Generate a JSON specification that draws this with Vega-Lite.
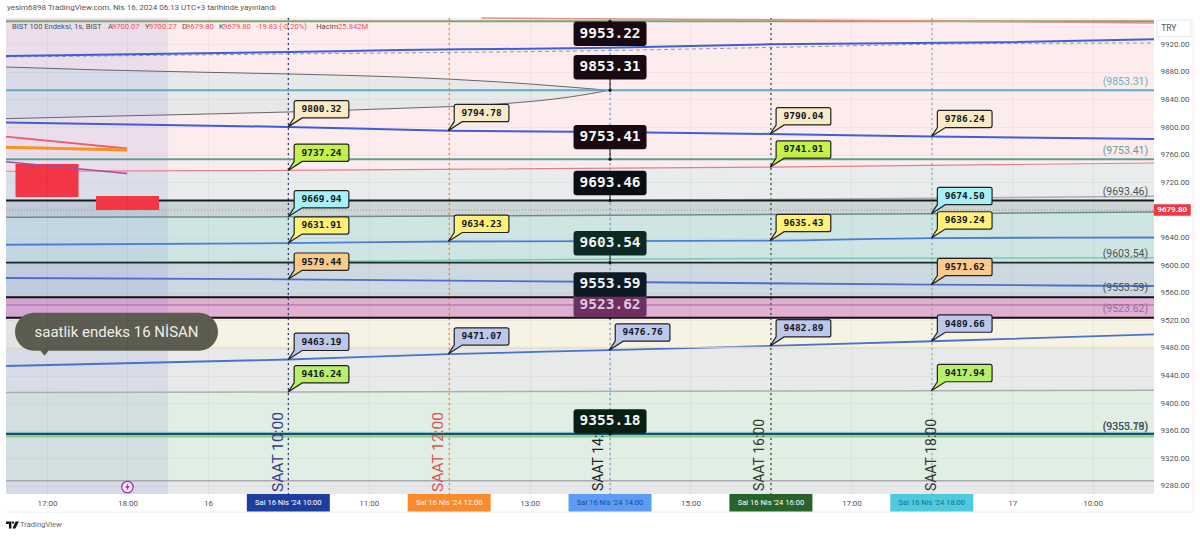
{
"$schema":"https://vega.github.io/schema/vega-lite/v6.json",
"width":1148,"height":476,
"autosize":{"type":"none"},
"padding":{"left":6,"top":18,"right":46,"bottom":42},
"background":"#ffffff",
"view":{"stroke":null},
"title":{"text":"yesim6898 TradingView.com, Nis 16, 2024 06:13 UTC+3 tarihinde yayınlandı","anchor":"start","frame":"group","font":"Roboto","fontSize":8,"fontWeight":"normal","color":"#555555","offset":3,"dx":1},
"datasets":{
"bands":[
{"zone":"pink","i":-0.51,"top":9958.1,"bottom":9736},{"zone":"pink","i":2.998,"top":9958.1,"bottom":9737.24},{"zone":"pink","i":8.99,"top":9958.1,"bottom":9741.91},{"zone":"pink","i":13.763,"top":9958.1,"bottom":9748},
{"zone":"mist","i":-0.51,"top":9736,"bottom":9693.46},{"zone":"mist","i":2.998,"top":9737.24,"bottom":9693.46},{"zone":"mist","i":8.99,"top":9741.91,"bottom":9693.46},{"zone":"mist","i":13.763,"top":9748,"bottom":9693.46},
{"zone":"graphite","i":-0.51,"top":9693.46,"bottom":9669.5},{"zone":"graphite","i":2.998,"top":9693.46,"bottom":9669.94},{"zone":"graphite","i":10.995,"top":9693.46,"bottom":9674.5},{"zone":"graphite","i":13.763,"top":9693.46,"bottom":9677},
{"zone":"teal","i":-0.51,"top":9669.5,"bottom":9603.54},{"zone":"teal","i":2.998,"top":9669.94,"bottom":9603.54},{"zone":"teal","i":10.995,"top":9674.5,"bottom":9603.54},{"zone":"teal","i":13.763,"top":9677,"bottom":9603.54},
{"zone":"slate","i":-0.51,"top":9603.54,"bottom":9553.59},{"zone":"slate","i":13.763,"top":9603.54,"bottom":9553.59},
{"zone":"purple","i":-0.51,"top":9553.59,"bottom":9523.62},{"zone":"purple","i":13.763,"top":9553.59,"bottom":9523.62},
{"zone":"cream","i":-0.51,"top":9523.62,"bottom":9481},{"zone":"cream","i":13.763,"top":9523.62,"bottom":9481},
{"zone":"ash","i":-0.51,"top":9481,"bottom":9415.5},{"zone":"ash","i":13.763,"top":9481,"bottom":9418.5},
{"zone":"green","i":-0.51,"top":9415.5,"bottom":9287.5},{"zone":"green","i":13.763,"top":9418.5,"bottom":9287.5},
{"zone":"floor","i":-0.51,"top":9287.5,"bottom":9268.3},{"zone":"floor","i":13.763,"top":9287.5,"bottom":9268.3}
],
"wedge":[
{"i":-0.51,"upper":9887.1,"lower":9812.2},{"i":0.66,"upper":9882.8,"lower":9815.5},{"i":2.998,"upper":9877,"lower":9821.9},{"i":4.39,"upper":9872.6,"lower":9827.2},{"i":5.63,"upper":9865.4,"lower":9833.5},{"i":6.5,"upper":9858,"lower":9843.6},{"i":6.99,"upper":9853.31,"lower":9853.31}
],
"shade":[{"i":-0.51,"end":1.505,"price":9958.1,"low":9268.3}],
"candles":[{"i":0,"price":9746.5,"close":9698.7},{"i":1,"price":9700.1,"close":9679.8}],
"times":[{"i":3,"hour":"10"},{"i":5,"hour":"12"},{"i":7,"hour":"14"},{"i":9,"hour":"16"},{"i":11,"hour":"18"}],
"lines":[
{"s":"L9953","i":-0.51,"price":9953.22},{"s":"L9953","i":13.763,"price":9953.22},
{"s":"Rtop","i":5.4,"price":9958},{"s":"Rtop","i":9,"price":9955.5},{"s":"Rtop","i":13.763,"price":9951},
{"s":"Dash","i":-0.51,"price":9901.6},{"s":"Dash","i":2.998,"price":9906},{"s":"Dash","i":6.99,"price":9911},{"s":"Dash","i":8.99,"price":9915.4},{"s":"Dash","i":11.85,"price":9921.2},{"s":"Dash","i":13.763,"price":9921.9},
{"s":"Bup","i":-0.51,"price":9903},{"s":"Bup","i":2.998,"price":9908.8},{"s":"Bup","i":4.39,"price":9911.7},{"s":"Bup","i":5.63,"price":9913.2},{"s":"Bup","i":6.99,"price":9915.1},{"s":"Bup","i":8.99,"price":9920},{"s":"Bup","i":11.85,"price":9922.9},{"s":"Bup","i":13.763,"price":9927.2},
{"s":"T9853","i":-0.51,"price":9853.31},{"s":"T9853","i":13.763,"price":9853.31},
{"s":"Bmid","i":-0.51,"price":9806.7},{"s":"Bmid","i":2.998,"price":9800.32},{"s":"Bmid","i":4.988,"price":9794.78},{"s":"Bmid","i":6.99,"price":9793},{"s":"Bmid","i":8.99,"price":9790.04},{"s":"Bmid","i":10.995,"price":9786.24},{"s":"Bmid","i":13.763,"price":9782.8},
{"s":"T9753","i":-0.51,"price":9753.41},{"s":"T9753","i":13.763,"price":9753.41},
{"s":"Red","i":-0.51,"price":9736},{"s":"Red","i":2.998,"price":9737.24},{"s":"Red","i":8.99,"price":9741.91},{"s":"Red","i":13.763,"price":9748},
{"s":"G9693","i":6.99,"price":9693.46},{"s":"G9693","i":13.763,"price":9699.7},
{"s":"K9693","i":-0.51,"price":9693.46},{"s":"K9693","i":13.763,"price":9693.46},
{"s":"Last","i":-0.51,"price":9679.8},{"s":"Last","i":13.763,"price":9679.8},
{"s":"GT","i":-0.51,"price":9669.5},{"s":"GT","i":2.998,"price":9669.94},{"s":"GT","i":10.995,"price":9674.5},{"s":"GT","i":13.763,"price":9677},
{"s":"B9635","i":-0.51,"price":9629.5},{"s":"B9635","i":2.998,"price":9631.91},{"s":"B9635","i":4.988,"price":9634.23},{"s":"B9635","i":8.99,"price":9635.43},{"s":"B9635","i":10.995,"price":9639.24},{"s":"B9635","i":13.763,"price":9640},
{"s":"T9603","i":-0.51,"price":9604},{"s":"T9603","i":3,"price":9605},{"s":"T9603","i":5.63,"price":9607.4},{"s":"T9603","i":7.37,"price":9608.9},{"s":"T9603","i":13.763,"price":9610.7},
{"s":"K9603","i":-0.51,"price":9603.54},{"s":"K9603","i":13.763,"price":9603.54},
{"s":"B9579","i":-0.51,"price":9581.3},{"s":"B9579","i":2.998,"price":9579.44},{"s":"B9579","i":10.995,"price":9571.62},{"s":"B9579","i":13.763,"price":9569.7},
{"s":"K9553","i":-0.51,"price":9553.59},{"s":"K9553","i":13.763,"price":9553.59},
{"s":"P9542","i":-0.51,"price":9542.2},{"s":"P9542","i":13.763,"price":9542.2},
{"s":"K9523","i":-0.51,"price":9523.62},{"s":"K9523","i":13.763,"price":9523.62},
{"s":"B9463","i":-0.51,"price":9453.8},{"s":"B9463","i":2.998,"price":9463.19},{"s":"B9463","i":4.988,"price":9471.07},{"s":"B9463","i":6.99,"price":9476.76},{"s":"B9463","i":8.99,"price":9482.89},{"s":"B9463","i":10.995,"price":9489.66},{"s":"B9463","i":13.763,"price":9499.7},
{"s":"Y9481","i":-0.51,"price":9481},{"s":"Y9481","i":13.763,"price":9481},
{"s":"G9417","i":-0.51,"price":9415.5},{"s":"G9417","i":2.998,"price":9416.24},{"s":"G9417","i":10.995,"price":9417.94},{"s":"G9417","i":13.763,"price":9418.5},
{"s":"C9356","i":-0.51,"price":9356.7},{"s":"C9356","i":13.763,"price":9356.7},
{"s":"G9351","i":-0.51,"price":9351.3},{"s":"G9351","i":13.763,"price":9351.3},
{"s":"N9355","i":-0.51,"price":9355.18},{"s":"N9355","i":13.763,"price":9355.18},
{"s":"G9287","i":-0.51,"price":9287.5},{"s":"G9287","i":13.763,"price":9287.5},
{"s":"Sred","i":-0.51,"price":9786.1},{"s":"Sred","i":0.995,"price":9769},
{"s":"Sora","i":-0.51,"price":9770.7},{"s":"Sora","i":0.995,"price":9766.8}
],
"wick":[{"i":-0.51,"price":9749.9},{"i":0.995,"price":9732.8}],
"saat":[
{"i":2.872,"price":9329.1,"text":"SAAT 10:00","hour":"10"},
{"i":4.862,"price":9329.1,"text":"SAAT 12:00","hour":"12"},
{"i":6.865,"price":9324.8,"text":"SAAT 14:00","hour":"14"},
{"i":8.866,"price":9324.8,"text":"SAAT 16:00","hour":"16"},
{"i":11.007,"price":9324.8,"text":"SAAT 18:00","hour":"18"}
],
"callouts":[
{"i":2.998,"price":9800.32,"tone":"cream"},{"i":2.998,"price":9737.24,"tone":"lime"},{"i":2.998,"price":9669.94,"tone":"aqua"},{"i":2.998,"price":9631.91,"tone":"yellow"},{"i":2.998,"price":9579.44,"tone":"peach"},{"i":2.998,"price":9463.19,"tone":"peri"},{"i":2.998,"price":9416.24,"tone":"leaf"},
{"i":4.988,"price":9794.78,"tone":"cream"},{"i":4.988,"price":9634.23,"tone":"yellow"},{"i":4.988,"price":9471.07,"tone":"peri"},
{"i":6.99,"price":9476.76,"tone":"peri"},
{"i":8.99,"price":9790.04,"tone":"cream"},{"i":8.99,"price":9741.91,"tone":"lime"},{"i":8.99,"price":9635.43,"tone":"yellow"},{"i":8.99,"price":9482.89,"tone":"peri"},
{"i":10.995,"price":9786.24,"tone":"cream"},{"i":10.995,"price":9674.5,"tone":"aqua"},{"i":10.995,"price":9639.24,"tone":"yellow"},{"i":10.995,"price":9571.62,"tone":"peach"},{"i":10.995,"price":9489.66,"tone":"peri"},{"i":10.995,"price":9417.94,"tone":"leaf"}
],
"levels":[
{"i":7,"level":9953.22,"price":9935.2,"tone":"ink1"},
{"i":7,"level":9853.31,"price":9886.8,"tone":"ink1"},
{"i":7,"level":9753.41,"price":9785.4,"tone":"ink1"},
{"i":7,"level":9693.46,"price":9719,"tone":"ink2"},
{"i":7,"level":9603.54,"price":9631.6,"tone":"ink3"},
{"i":7,"level":9523.62,"price":9542,"tone":"plum"},
{"i":7,"level":9553.59,"price":9571.9,"tone":"ink4"},
{"i":7,"level":9355.18,"price":9373.6,"tone":"ink5"}
],
"rightNotes":[
{"i":13.69,"price":9865.8,"text":"(9853.31)","tone":"a"},
{"i":13.69,"price":9765.8,"text":"(9753.41)","tone":"b"},
{"i":13.69,"price":9705.5,"text":"(9693.46)","tone":"c"},
{"i":13.69,"price":9616.1,"text":"(9603.54)","tone":"c"},
{"i":13.69,"price":9566.4,"text":"(9553.59)","tone":"c"},
{"i":13.69,"price":9536,"text":"(9523.62)","tone":"d"},
{"i":13.69,"price":9365.8,"text":"(9355.18)","tone":"c"},
{"i":13.69,"price":9365.8,"text":"(9353.79)","tone":"c"}
],
"status":[
{"i":-0.435,"price":9944.5,"text":"BIST 100 Endeksi, 1s, BIST","tone":"ink"},
{"i":0.759,"price":9944.5,"text":"A","tone":"ink"},{"i":0.808,"price":9944.5,"text":"9700.07","tone":"red"},
{"i":1.219,"price":9944.5,"text":"Y","tone":"ink"},{"i":1.269,"price":9944.5,"text":"9700.27","tone":"red"},
{"i":1.679,"price":9944.5,"text":"D","tone":"ink"},{"i":1.729,"price":9944.5,"text":"9679.80","tone":"red"},
{"i":2.139,"price":9944.5,"text":"K","tone":"ink"},{"i":2.189,"price":9944.5,"text":"9679.80","tone":"red"},
{"i":2.6,"price":9944.5,"text":"-19.83 (-0.20%)","tone":"red"},
{"i":3.346,"price":9944.5,"text":"Hacim","tone":"ink"},{"i":3.619,"price":9944.5,"text":"25.842M","tone":"red"},
{"i":-0.336,"price":9223.3,"text":"TradingView","tone":"foot"}
],
"chips":[
{"i":3,"price":9255.5,"text":"Sal 16 Nis '24   10:00","tone":"navy"},
{"i":5,"price":9255.5,"text":"Sal 16 Nis '24   12:00","tone":"orange"},
{"i":7,"price":9255.5,"text":"Sal 16 Nis '24   14:00","tone":"sky"},
{"i":9,"price":9255.5,"text":"Sal 16 Nis '24   16:00","tone":"forest"},
{"i":11,"price":9255.5,"text":"Sal 16 Nis '24   18:00","tone":"cyan"}
],
"bubble":[{"i":0.864,"price":9503.5,"text":"saatlik endeks 16 NİSAN"}],
"tag":[{"i":13.99,"price":9679.8,"text":"9679.80"}],
"currency":[{"i":14.01,"price":9943.2,"text":"TRY"}],
"frame":[{"i":14.25,"end":14.25,"price":9958.1,"low":9242},{"i":-0.51,"end":14.25,"price":9242,"low":9242}],
"flash":[{"i":1,"price":9278.4}],
"brand":[{"i":-0.43,"price":9223.3}]
},
"encoding":{
"x":{"field":"i","type":"quantitative","title":null,
"scale":{"domain":[-0.51,13.763],"nice":false,"zero":false,"padding":0},
"axis":{"values":[0,1,2,3,4,5,6,7,8,9,10,11,12,13],"labelExpr":"['17:00','18:00','16','','11:00','','13:00','','15:00','','17:00','','17','10:00'][datum.value]","grid":true,"gridColor":"#000000","gridOpacity":0.045,"ticks":false,"domain":false,"labelFont":"Roboto","labelFontSize":8,"labelColor":"#555555","labelPadding":5,"zindex":1,"labelOverlap":false,"labelBound":false,"labelFlush":false}},
"y":{"field":"price","type":"quantitative","title":null,
"scale":{"domain":[9268.3,9958.1],"nice":false,"zero":false},
"axis":{"orient":"right","values":[9280,9320,9360,9400,9440,9480,9520,9560,9600,9640,9720,9760,9800,9840,9880,9920],"format":".2f","grid":true,"gridColor":"#000000","gridOpacity":0.035,"ticks":false,"domain":false,"labelFont":"Roboto","labelFontSize":8,"labelColor":"#555555","labelPadding":6,"zindex":1,"labelOverlap":false,"labelBound":false}}
},
"layer":[
{"data":{"name":"bands"},"mark":{"type":"area","interpolate":"linear","opacity":1},
 "encoding":{"y":{"field":"top","type":"quantitative"},"y2":{"field":"bottom"},
  "color":{"field":"zone","type":"nominal","legend":null,"scale":{"domain":["pink","mist","graphite","teal","slate","purple","cream","ash","green","floor"],"range":["#fdeced","#e9ecec","#ccd6d7","#cfe5e4","#cdd8e0","#e2aed2","#f6f2e4","#e8eaea","#e0eee3","#e6e8ea"]}}}},
{"data":{"name":"wedge"},"mark":{"type":"area","interpolate":"monotone","color":"#e7e8ea","opacity":1},
 "encoding":{"y":{"field":"upper","type":"quantitative"},"y2":{"field":"lower"}}},
{"data":{"name":"wedge"},"mark":{"type":"line","interpolate":"monotone","color":"#666666","strokeWidth":1},
 "encoding":{"y":{"field":"upper","type":"quantitative"}}},
{"data":{"name":"wedge"},"mark":{"type":"line","interpolate":"monotone","color":"#666666","strokeWidth":1},
 "encoding":{"y":{"field":"lower","type":"quantitative"}}},
{"data":{"name":"shade"},"mark":{"type":"rect","color":"#5a6fd0","opacity":0.11},
 "encoding":{"x2":{"field":"end"},"y2":{"field":"low"}}},
{"data":{"name":"times"},"mark":{"type":"rule","strokeDash":[2,3],"strokeWidth":1.2},
 "encoding":{"y":{"value":0},"y2":{"value":476},
  "color":{"field":"hour","type":"nominal","legend":null,"scale":{"domain":["10","12","14","16","18"],"range":["#28367a","#e8884a","#6b9ad0","#2a4a2a","#66c4cc"]}}}},
{"data":{"name":"lines"},"mark":{"type":"line","interpolate":"monotone"},
 "encoding":{
  "color":{"field":"s","type":"nominal","legend":null,"sort":null,"scale":{"domain":["L9953","Rtop","Dash","Bup","T9853","Bmid","T9753","Red","G9693","K9693","Last","GT","B9635","T9603","K9603","B9579","K9553","P9542","K9523","B9463","Y9481","G9417","C9356","G9351","N9355","G9287","Sred","Sora"],
   "range":["#7ea674","#e49088","#9096ad","#3f5fd6","#66aabf","#3f5fd6","#5f9f96","#e2808a","#a9aeae","#1a1a1a","#b08a90","#6b8f8a","#4a7fd4","#7fc8ba","#1c2a2a","#4a72cc","#111111","#a06a9e","#111111","#4a72cc","#f0e2a0","#aab0b0","#86cfe0","#85d08a","#1c4f6c","#a8acae","#f05a6a","#f7931e"]}},
  "strokeWidth":{"field":"s","type":"nominal","legend":null,"scale":{"type":"ordinal","domain":["L9953","Rtop","Dash","Bup","T9853","Bmid","T9753","Red","G9693","K9693","Last","GT","B9635","T9603","K9603","B9579","K9553","P9542","K9523","B9463","Y9481","G9417","C9356","G9351","N9355","G9287","Sred","Sora"],
   "range":[2,1.5,1,2,2,2,2,1.2,1.5,2,1,1.5,1.8,1.5,1.8,1.8,2,1,2,1.8,1.2,1.5,1.2,1.5,2.5,1.5,1.8,3]}},
  "strokeDash":{"field":"s","type":"nominal","legend":null,"scale":{"domain":["Dash","Last","other"],"range":[[4,3],[1,2],[1,0]],"unknown":[1,0]}}
 }},
{"data":{"name":"candles"},"mark":{"type":"bar","size":63,"color":"#f23645"},"encoding":{"y2":{"field":"close"}}},
{"data":{"name":"wick"},"mark":{"type":"line","color":"#a04ea8","strokeWidth":1.5}},
{"data":{"name":"saat"},"mark":{"type":"text","angle":270,"font":"Roboto","align":"center","baseline":"middle"},
 "encoding":{"text":{"field":"text"},
  "size":{"field":"hour","type":"nominal","legend":null,"scale":{"type":"ordinal","domain":["10","12","14","16","18"],"range":[15.5,15.5,14,14,14]}},
  "color":{"field":"hour","type":"nominal","legend":null,"scale":{"domain":["10","12","14","16","18"],"range":["#3a3a8a","#d85454","#222222","#2c3c2c","#333333"]}}}},
{"data":{"name":"callouts"},"mark":{"type":"point","filled":true,"opacity":1,"size":4,"stroke":"#222222","strokeWidth":1.2,"shape":"M0,0 L6,-9 V-24.3 Q6,-26.3 8,-26.3 H58.7 Q60.7,-26.3 60.7,-24.3 V-11 Q60.7,-9 58.7,-9 H14 Z"},
 "encoding":{"color":{"field":"tone","type":"nominal","legend":null,"scale":{"domain":["cream","lime","aqua","yellow","peach","peri","leaf"],"range":["#f8eac6","#c4f24a","#a8f0f8","#fff07a","#f9cc8c","#bcc8ec","#b8f06a"]}}}},
{"data":{"name":"callouts"},"mark":{"type":"text","font":"DejaVu Sans Mono","fontWeight":"bold","fontSize":9.5,"align":"center","baseline":"middle","dx":33.4,"dy":-17.7,"color":"#131722"},
 "encoding":{"text":{"field":"price","type":"quantitative","format":".2f"}}},
{"data":{"name":"levels"},"mark":{"type":"rule","color":"#111111","strokeWidth":1},"encoding":{"y":{"field":"level","type":"quantitative"},"y2":{"field":"price"}}},
{"data":{"name":"levels"},"mark":{"type":"point","filled":true,"color":"#111111","size":10,"opacity":1,"shape":"circle"},"encoding":{"y":{"field":"level","type":"quantitative"}}},
{"data":{"name":"levels"},"mark":{"type":"point","filled":true,"opacity":1,"size":4,"shape":"M-33.5,-12.2 H33.5 Q36.5,-12.2 36.5,-9.2 V9.2 Q36.5,12.2 33.5,12.2 H-33.5 Q-36.5,12.2 -36.5,9.2 V-9.2 Q-36.5,-12.2 -33.5,-12.2 Z"},
 "encoding":{"color":{"field":"tone","type":"nominal","legend":null,"scale":{"domain":["ink1","ink2","ink3","ink4","ink5","plum"],"range":["#180a10","#0a0e14","#0e2a24","#0d1a24","#0a1f14","#6e3062"]}}}},
{"data":{"name":"levels"},"mark":{"type":"text","font":"DejaVu Sans Mono","fontWeight":"bold","fontSize":14.5,"align":"center","baseline":"middle"},
 "encoding":{"text":{"field":"level","type":"quantitative","format":".2f"},
  "color":{"field":"tone","type":"nominal","legend":null,"scale":{"domain":["ink1","ink2","ink3","ink4","ink5","plum"],"range":["#f5f5f5","#f5f5f5","#eef2f0","#eef2f5","#f2f5f2","#e4c6dc"]}}}},
{"data":{"name":"rightNotes"},"mark":{"type":"text","font":"Roboto","fontSize":10.5,"align":"right","baseline":"middle"},
 "encoding":{"text":{"field":"text"},"color":{"field":"tone","type":"nominal","legend":null,"scale":{"domain":["a","b","c","d"],"range":["#6ab1c6","#5f9e92","#4a5058","#9c6a90"]}}}},
{"data":{"name":"status"},"mark":{"type":"text","font":"Roboto","fontSize":7.6,"align":"left","baseline":"middle"},
 "encoding":{"text":{"field":"text"},"color":{"field":"tone","type":"nominal","legend":null,"scale":{"domain":["ink","red","foot"],"range":["#4a4f5a","#f0505f","#666666"]}}}},
{"data":{"name":"chips"},"mark":{"type":"point","filled":true,"opacity":1,"size":4,"shape":"M-41.5,-8.8 H41.5 V8.8 H-41.5 Z"},
 "encoding":{"color":{"field":"tone","type":"nominal","legend":null,"scale":{"domain":["navy","orange","sky","forest","cyan"],"range":["#1c3f9f","#f98b2c","#5c9cf5","#27632a","#4ccbdc"]}}}},
{"data":{"name":"chips"},"mark":{"type":"text","font":"Roboto","fontSize":7.6,"align":"center","baseline":"middle"},
 "encoding":{"text":{"field":"text"},"color":{"field":"tone","type":"nominal","legend":null,"scale":{"domain":["navy","orange","sky","forest","cyan"],"range":["#ffffff","#fff4e4","#234a8a","#ffffff","#236a8a"]}}}},
{"data":{"name":"bubble"},"mark":{"type":"point","filled":true,"opacity":1,"size":4,"color":"#5c5c50","shape":"M-82.5,-19 H82.5 A19,19 0 0 1 82.5,19 H-68 L-72,24 L-76,19 H-82.5 A19,19 0 0 1 -82.5,-19 Z"}},
{"data":{"name":"bubble"},"mark":{"type":"text","font":"Roboto","fontSize":15,"color":"#eeeeea","align":"center","baseline":"middle"},"encoding":{"text":{"field":"text"}}},
{"data":{"name":"tag"},"mark":{"type":"point","filled":true,"opacity":1,"size":4,"color":"#f23645","shape":"M-18.5,-5.8 H18.5 V5.8 H-18.5 Z"}},
{"data":{"name":"tag"},"mark":{"type":"text","font":"Roboto","fontSize":8,"fontWeight":"bold","color":"#ffffff","align":"center","baseline":"middle"},"encoding":{"text":{"field":"text"}}},
{"data":{"name":"currency"},"mark":{"type":"point","filled":true,"opacity":1,"size":4,"color":"#ffffff","stroke":"#e4e6ec","strokeWidth":1,"shape":"M-17,-8.2 H17 V8.2 H-17 Z"}},
{"data":{"name":"currency"},"mark":{"type":"text","font":"Roboto","fontSize":8.5,"color":"#555555","align":"center","baseline":"middle","dx":-5},"encoding":{"text":{"field":"text"}}},
{"data":{"name":"frame"},"mark":{"type":"rule","color":"#eceef2","strokeWidth":1},"encoding":{"x2":{"field":"end"},"y2":{"field":"low"}}},
{"data":{"name":"flash"},"mark":{"type":"point","filled":true,"opacity":1,"color":"#f4edf6","stroke":"#9c27b0","strokeWidth":1.2,"size":130,"shape":"circle"}},
{"data":{"name":"flash"},"mark":{"type":"point","filled":true,"opacity":1,"color":"#9c27b0","size":4,"shape":"M1,-4 L-2.2,0.8 H-0.2 L-1,4 L2.2,-0.8 H0.2 Z"}},
{"data":{"name":"brand"},"mark":{"type":"point","filled":true,"opacity":1,"color":"#131722","size":4,"shape":"M-6.5,-3.5 H-1 V3.5 H-3.5 V-1 H-6.5 Z M3,-3.5 H6.5 L3,3.5 H0 Z M-0.5,-3.5 H1.5 V-1.5 H-0.5 Z"}}
],
"resolve":{"scale":{"color":"independent","size":"independent","strokeWidth":"independent","strokeDash":"independent"}}
}
